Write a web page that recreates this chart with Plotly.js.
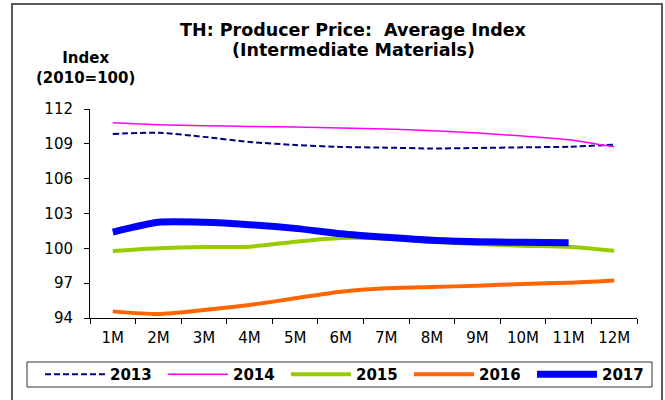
<!DOCTYPE html>
<html>
<head>
<meta charset="utf-8">
<script src="https://cdn.plot.ly/plotly-3.0.1.min.js"></script>
<style>
html,body{margin:0;padding:0;background:#fff;}
#chart{width:665px;height:400px;}
</style>
</head>
<body>
<div id="chart"></div>
<script>
const months = ["1M","2M","3M","4M","5M","6M","7M","8M","9M","10M","11M","12M"];
const y2013 = [109.85,109.96,109.6,109.16,108.9,108.73,108.67,108.6,108.64,108.7,108.75,108.93];
const y2014 = [110.82,110.65,110.56,110.5,110.45,110.36,110.28,110.13,109.93,109.67,109.36,108.75];
const y2015 = [99.77,100.0,100.11,100.14,100.57,100.89,100.83,100.57,100.37,100.23,100.14,99.8];
const y2016 = [94.57,94.34,94.69,95.12,95.7,96.27,96.56,96.67,96.78,96.93,97.04,97.24];
const y2017 = [101.4,102.24,102.24,102.04,101.72,101.26,100.95,100.69,100.57,100.52,100.49];
const yTicks = [94,97,100,103,106,109,112];

const mk = (name, y, color, width, dash) => ({
  type: "scatter", mode: "lines", name: name,
  x: months.slice(0, y.length), y: y,
  line: {color: color, width: width, dash: dash || "solid", shape: "spline", smoothing: 0.6}
});

const traces = [
  mk("2013", y2013, "#000080", 2, "6px,3px"),
  mk("2014", y2014, "#FF00FF", 1.5),
  mk("2015", y2015, "#99CC00", 4),
  mk("2016", y2016, "#FF6600", 4),
  mk("2017", y2017, "#0000FF", 7)
];

const L = 90, R = 637, T = 109, B = 318;
const W = R - L, H = B - T;
const px = x => (x - L) / W;
const py = y => (B - y) / H;
const FONT = "'DejaVu Sans', Arial, sans-serif";

const layout = {
  width: 665, height: 400,
  margin: {l: L, r: 665 - R, t: T, b: 400 - B, autoexpand: false},
  paper_bgcolor: "#ffffff", plot_bgcolor: "#ffffff",
  font: {family: FONT, size: 15, color: "#000"},
  title: {
    text: "<b>TH: Producer Price:  Average Index</b>",
    x: 353 / 665, xanchor: "center", y: 1 - 30 / 400, yanchor: "middle", yref: "container",
    font: {family: FONT, size: 17.5, color: "#000"}
  },
  xaxis: {
    type: "category", categoryorder: "array", categoryarray: months,
    range: [-0.5, 11.5], tickson: "boundaries",
    showline: true, linecolor: "#000", linewidth: 1,
    ticks: "outside", ticklen: 5, tickcolor: "#000", ticklabelstandoff: 6,
    showgrid: false, zeroline: false, fixedrange: true,
    tickfont: {size: 15, family: FONT}
  },
  yaxis: {
    range: [94, 112], tickvals: yTicks, ticktext: yTicks.map(String),
    showline: true, linecolor: "#000", linewidth: 1,
    ticks: "outside", ticklen: 5, tickcolor: "#000", ticklabelstandoff: 8,
    showgrid: false, zeroline: false, fixedrange: true,
    tickfont: {size: 15, family: FONT}
  },
  showlegend: true,
  legend: {
    orientation: "h", x: px(40), xanchor: "left", y: py(374.5), yanchor: "middle",
    borderwidth: 0, bgcolor: "rgba(0,0,0,0)",
    font: {size: 15, weight: "bold", family: FONT},
    entrywidth: 48, entrywidthmode: "pixels",
    itemwidth: 60, tracegroupgap: 0
  },
  annotations: [
    {
      xref: "paper", yref: "paper", x: px(353), y: py(50), xanchor: "center", yanchor: "middle",
      text: "<b>(Intermediate Materials)</b>", showarrow: false,
      font: {size: 17.5, family: FONT}
    },
    {
      xref: "paper", yref: "paper", x: px(85), y: py(68), xanchor: "center", yanchor: "middle",
      text: "<b>Index</b><br><b>(2010=100)</b>", showarrow: false,
      font: {size: 15, family: FONT}
    }
  ],
  shapes: [
    {
      type: "rect", xref: "paper", yref: "paper",
      x0: px(12), x1: px(662), y0: py(403), y1: py(4),
      line: {color: "#5a5a5a", width: 2}, fillcolor: "rgba(0,0,0,0)"
    },
    {
      type: "rect", xref: "paper", yref: "paper",
      x0: px(27), x1: px(652), y0: py(387), y1: py(362),
      line: {color: "#333", width: 1}, fillcolor: "rgba(0,0,0,0)"
    }
  ]
};

Plotly.newPlot("chart", traces, layout, {displayModeBar: false, staticPlot: true});
</script>
</body>
</html>
